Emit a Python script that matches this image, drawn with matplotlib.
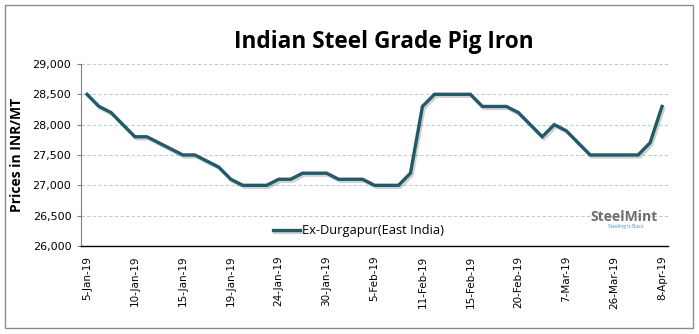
import matplotlib
matplotlib.use("Agg")
from matplotlib import pyplot as plt
from matplotlib import patheffects as pe
from matplotlib.patches import Rectangle

# Weekly prices, Ex-Durgapur (INR/MT)
prices = [28500, 28300, 28200, 28000, 27800, 27800, 27700, 27600, 27500, 27500,
          27400, 27300, 27100, 27000, 27000, 27000, 27100, 27100, 27200, 27200,
          27200, 27100, 27100, 27100, 27000, 27000, 27000, 27200, 28300, 28500,
          28500, 28500, 28500, 28300, 28300, 28300, 28200, 28000, 27800, 28000,
          27900, 27700, 27500, 27500, 27500, 27500, 27500, 27700, 28300]
tick_pos = [0, 4, 8, 12, 16, 20, 24, 28, 32, 36, 40, 44, 48]
tick_labels = ["5-Jan-19", "10-Jan-19", "15-Jan-19", "19-Jan-19", "24-Jan-19",
               "30-Jan-19", "5-Feb-19", "11-Feb-19", "15-Feb-19", "20-Feb-19",
               "7-Mar-19", "26-Mar-19", "8-Apr-19"]
y_ticks = [26000, 26500, 27000, 27500, 28000, 28500, 29000]

line_color = "#215a68"

fig = plt.figure(figsize=(6.99, 3.34), dpi=100)
ax = fig.add_axes([0.1159, 0.2635, 0.8398, 0.545])

# outer chart border
fig.patches.append(Rectangle((5 / 699, 6 / 334), 688 / 699, 323 / 334,
                             transform=fig.transFigure, fill=False,
                             edgecolor="#8c8c8c", linewidth=1.0))

x = list(range(len(prices)))
ax.plot(x, prices, color=line_color, linewidth=2.4, solid_joinstyle="miter",
        label="Ex-Durgapur(East India)",
        path_effects=[pe.SimpleLineShadow(offset=(1.2, -1.5), shadow_color="#000000", alpha=0.18),
                      pe.Normal()])

ax.set_xlim(-0.5, len(prices) - 0.5)
ax.set_ylim(26000, 29000)
ax.set_yticks(y_ticks)
ax.set_yticklabels([f"{v:,}" for v in y_ticks], fontsize=8, fontfamily="DejaVu Sans")
ax.set_xticks(tick_pos)
ax.set_xticklabels(tick_labels, rotation=90, fontsize=7.5, fontfamily="DejaVu Sans")
ax.tick_params(axis="x", length=0, pad=7)
ax.tick_params(axis="y", length=3, color="#808080", pad=4)

ax.yaxis.grid(True, linestyle=(0, (3, 2)), color="#b9cde0", linewidth=0.8)
ax.set_axisbelow(True)
for s in ["top", "right"]:
    ax.spines[s].set_visible(False)
ax.spines["left"].set_color("#808080")
ax.spines["bottom"].set_color("#000000")
ax.spines["bottom"].set_linewidth(1.0)

ax.set_ylabel("Prices in INR/MT", fontsize=10, fontweight="bold",
              fontfamily="Open Sans", labelpad=6)
fig.text(0.549, 0.875, "Indian Steel Grade Pig Iron", ha="center", va="center",
         fontsize=16.3, fontweight="bold", fontfamily="Open Sans")

leg = ax.legend(loc="lower center", bbox_to_anchor=(0.472, -0.01), frameon=True,
                framealpha=1, edgecolor="none", handlelength=2.1,
                handletextpad=0.15, borderpad=0.3,
                prop={"family": "Open Sans", "size": 9.3})

# SteelMint logo text
fig.text(0.893, 0.35, "SteelMint", ha="center", va="center", fontsize=10,
         fontweight="bold", color="#6d6e71", fontfamily="Open Sans")
fig.text(0.895, 0.323, "Steeling is Basic", ha="center", va="center", fontsize=3.5,
         color="#3a8fd0", fontfamily="Open Sans")

fig.savefig("out.png", dpi=100)
